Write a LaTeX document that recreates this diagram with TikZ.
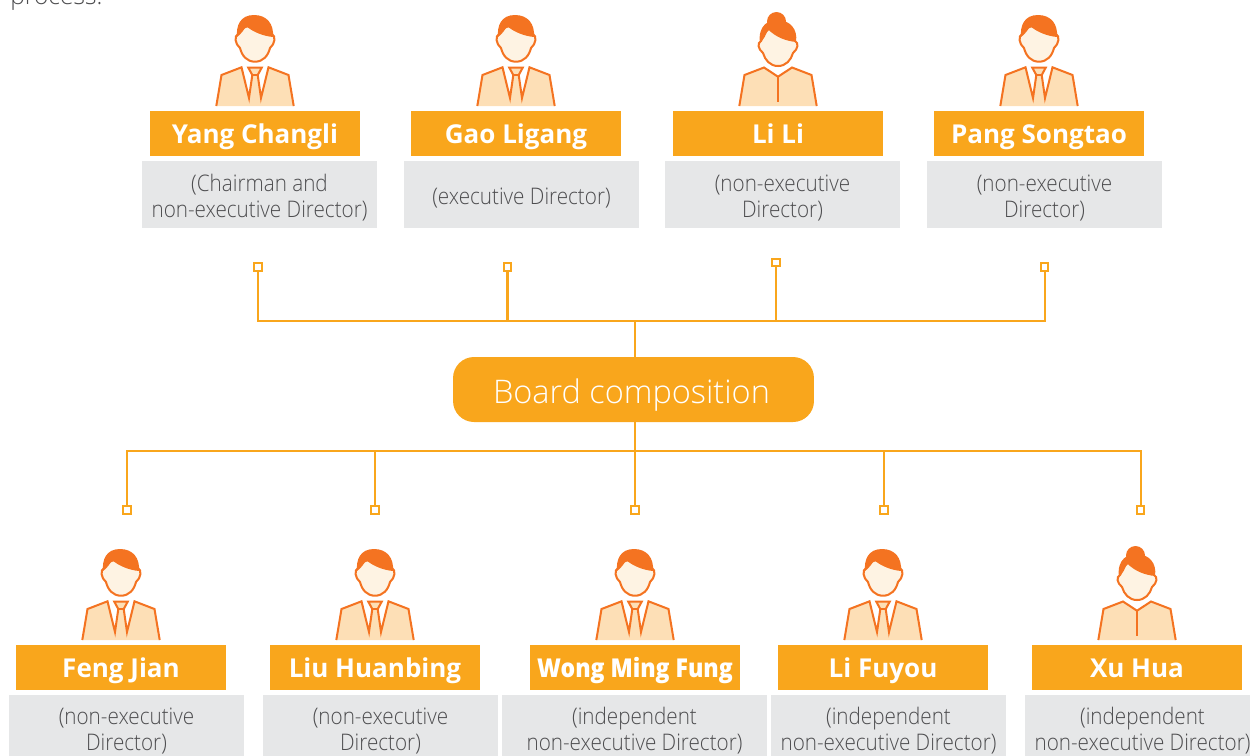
\documentclass[tikz,border=0pt]{standalone}
\usepackage{fontspec}
\setmainfont{Open Sans Light}[BoldFont={Open Sans Bold}]
\newfontfamily\jobfont{Open Sans Light}[FakeStretch=0.905]
\newfontfamily\tightfont{Open Sans Bold}[FakeStretch=0.885]
\usetikzlibrary{positioning}
\definecolor{BoxOrange}{HTML}{F9A61C}
\definecolor{HairOrange}{HTML}{F47321}
\definecolor{SuitTan}{HTML}{FDDFB6}
\definecolor{FaceTan}{HTML}{FEF3E3}
\definecolor{RoleGray}{HTML}{E6E7E8}
\definecolor{RoleText}{HTML}{4D4D4F}
\tikzset{
	Man/.pic={
		\fill [SuitTan] (-38.7,0) -- (-33.5,-31) -- (-13.5,-38.7) -- (-6,-8) -- (-2.7,-31) -- (-6.7,-38.3) -- (6.7,-38.3) -- (2.7,-31) -- (6,-8) -- (13.5,-38.7) -- (33.5,-31) -- (38.7,0) -- cycle;
		\draw [Skin] (-38.7,0) -- (-33.5,-31) -- (-13.5,-38.7) -- (-6,-8) -- (-2.7,-31) -- (-6.7,-38.3) -- (6.7,-38.3) -- (2.7,-31) -- (6,-8) -- (13.5,-38.7) -- (33.5,-31) -- (38.7,0);
		\draw [Skin] (-2.7,-31) -- (2.7,-31);
		\filldraw [Skin, fill=FaceTan] (-17,-72) .. controls (-21,-70) and (-20,-62) .. (-15,-58) .. controls (-13,-50) and (-8,-44.3) .. (0,-44.3) .. controls (8,-44.3) and (13,-50) .. (15,-58) .. controls (20,-62) and (21,-70) .. (17,-72) .. controls (12,-84) and (-12,-84) .. (-17,-72) -- cycle;
		\fill [HairOrange] (-18,-69) .. controls (-19,-80) and (-15,-91) .. (-1,-91) .. controls (12,-91) and (19,-82) .. (18,-69) .. controls (8,-70) and (-2,-74) .. (-9,-80) .. controls (-11,-76) and (-14,-72) .. (-18,-69) -- cycle;
	},
	Woman/.pic={
		\fill [SuitTan] (-38.7,0) -- (-33.5,-31) -- (-14,-38.5) -- (0,-29.3) -- (14,-38.5) -- (33.5,-31) -- (38.7,0) -- cycle;
		\draw [Skin] (-38.7,0) -- (-33.5,-31) -- (-14,-38.5) -- (0,-29.3) -- (14,-38.5) -- (33.5,-31) -- (38.7,0);
		\draw [Skin] (0,-29.3) -- (0,-4);
		\filldraw [Skin, fill=FaceTan] (-17,-65) .. controls (-21,-63) and (-20,-57) .. (-15,-53) .. controls (-13,-46) and (-8,-40) .. (0,-40) .. controls (8,-40) and (13,-46) .. (15,-53) .. controls (20,-57) and (21,-63) .. (17,-65) .. controls (10,-84) and (-10,-86) .. (-17,-65) -- cycle;
		\fill [HairOrange] (-1.5,-84.5) circle (9.5);
		\fill [HairOrange] (-18,-63) .. controls (-20,-74) and (-15,-86) .. (-1,-86) .. controls (12,-86) and (20,-77) .. (18,-64) .. controls (8,-65) and (-3,-69) .. (-10,-77) .. controls (-12,-71) and (-14,-67) .. (-18,-63) -- cycle;
	}
}
\begin{document}
\begin{tikzpicture}[x=0.02cm, y=-0.02cm]
	\tikzstyle{Skin}	= [draw=HairOrange, line width=1.15pt, line join=miter]
	\tikzstyle{Wire}	= [draw=BoxOrange, line width=1.15pt]
	\tikzstyle{Pin}		= [rectangle, draw=BoxOrange, fill=white, line width=1.15pt, minimum size=4.2pt, inner sep=0pt]
	\tikzstyle{Name}	= [rectangle, fill=BoxOrange, text=white, minimum width=4.2cm, text height=18.4pt, text depth=7.1pt, inner sep=0pt, font=\fontsize{14.8}{16}\selectfont\bfseries]
	\tikzstyle{Role}	= [rectangle, fill=RoleGray, minimum width=4.7cm, minimum height=1.34cm, inner sep=0pt]
	\tikzstyle{Job}		= [text=RoleText, inner sep=0pt, align=center, font=\jobfont\fontsize{13}{14.8}\selectfont]
	\tikzstyle{Board}	= [rectangle, rounded corners=0.42cm, fill=BoxOrange, text=white, minimum width=7.22cm, text height=26.2pt, text depth=10.8pt, inner sep=0pt, font=\fontsize{18.5}{20}\selectfont]

	\useasboundingbox (0,0) rectangle (1250,755);
	\node (note) at (10,4.5) [anchor=base west, text=RoleText, font=\fontsize{14}{16}\selectfont, inner sep=0pt] {process.};

	\node (board) at (633.5,389.5) [Board] {Board composition\kern2.3pt};
	\coordinate (topbus) at (635,321);
	\coordinate (lowbus) at (635,451);
	\draw [Wire] (topbus) -- (topbus |- board.north);
	\draw [Wire] (lowbus) -- (lowbus |- board.south);

	\foreach \i/\cx/\gx/\px/\py/\who/\nm/\job in {
		1/255/259.5/258/267/Man/Yang Changli/{(Chairman and\\non-executive Director)},
		2/516/521.5/507.5/267/Man/Gao Ligang/{(executive Director)},
		3/778/782.5/776/262.5/Woman/Li Li/{(non-executive\\Director)},
		4/1039/1044.5/1044.5/267/Man/Pang Songtao/{(non-executive\\Director)}}
	{
		\pic at (\cx,106) {\who};
		\node (name\i) at (\cx,133.5) [Name] {\nm};
		\node (role\i) at (\gx,194.5) [Role] {};
		\node (job\i) at (\gx,198) [Job] {\job};
		\node (pin\i) at (\px,\py) [Pin] {};
		\draw [Wire] (pin\i) |- (topbus);
	}

	\foreach \i/\cx/\gx/\gw/\px/\who/\nm/\job in {
		5/121/126.5/4.7cm/127/Man/Feng Jian/{(non-executive\\Director)},
		6/375/380.5/4.7cm/375/Man/Liu Huanbing/{(non-executive\\Director)},
		7/635/634.5/5.3cm/635/Man/{\tightfont Wong Ming Fung}/{(independent\\non-executive Director)},
		8/883/888.5/4.7cm/884/Man/Li Fuyou/{(independent\\non-executive Director)},
		9/1137/1142.5/4.7cm/1140.5/Woman/Xu Hua/{(independent\\non-executive Director)}}
	{
		\pic at (\cx,640) {\who};
		\node (name\i) at (\cx,667.5) [Name] {\nm};
		\node (role\i) at (\gx,728.5) [Role, minimum width=\gw] {};
		\node (job\i) at (\gx,731) [Job] {\job};
		\node (pin\i) at (\px,510) [Pin] {};
		\draw [Wire] (pin\i) |- (lowbus);
	}
\end{tikzpicture}
\end{document}
